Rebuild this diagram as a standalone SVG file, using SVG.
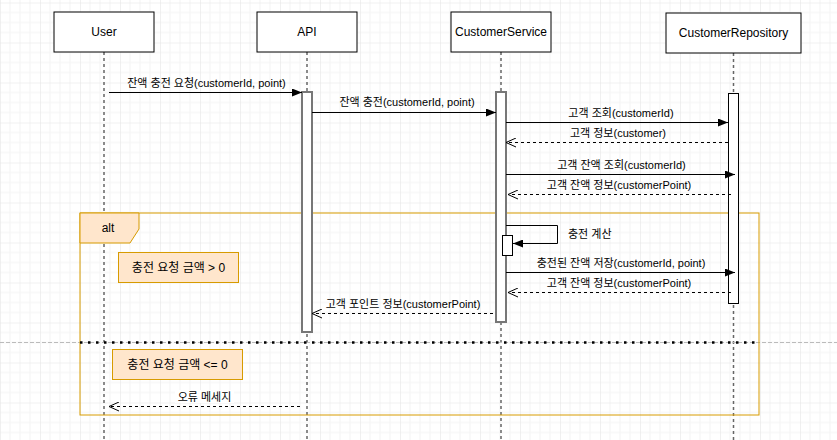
<svg xmlns="http://www.w3.org/2000/svg" width="837" height="440" viewBox="0 0 837 440">
<style>
text{font-family:"Liberation Sans",Arial,"Noto Sans CJK KR",sans-serif;fill:#000}
.hdr{font-size:12px;text-anchor:middle}
.lbl{font-size:11px;text-anchor:middle}
.box{fill:#fff;stroke:#000;stroke-width:1}
.life{stroke:#666;stroke-width:1.5;stroke-dasharray:3 3;fill:none}
.act{fill:#fff;stroke:#777;stroke-width:2}
.act2{fill:#fff;stroke:#000;stroke-width:1}
.msg{stroke:#000;stroke-width:1;fill:none}
.ret{stroke:#000;stroke-width:1;fill:none;stroke-dasharray:3 3}
.cond{fill:#ffe6cc;stroke:#d79b00;stroke-width:1}
</style>
<defs>
<pattern id="grid" width="40" height="40" patternUnits="userSpaceOnUse" x="0" y="2.5">
<path d="M10 0V40M20 0V40M30 0V40M0 10H40M0 20H40M0 30H40" stroke="#f3f3f3" stroke-width="1" fill="none"/>
<path d="M0 0V40M0 0H40" stroke="#e2e2e2" stroke-width="1" fill="none"/>
</pattern>
<marker id="block" viewBox="0 0 10 8" refX="10" refY="4" markerWidth="10" markerHeight="8" markerUnits="userSpaceOnUse" orient="auto">
<path d="M0 0L10 4L0 8z" fill="#000"/>
</marker>
<marker id="open" viewBox="0 0 11 10" refX="10.5" refY="5" markerWidth="11" markerHeight="10" markerUnits="userSpaceOnUse" orient="auto">
<path d="M0.5 0.5L10.5 5L0.5 9.5" fill="none" stroke="#000" stroke-width="1"/>
</marker>
</defs>
<rect width="837" height="440" fill="#fff"/>
<rect width="837" height="440" fill="url(#grid)"/>

<g id="lifelines">
<line class="life" x1="104" y1="52" x2="104" y2="440"/>
<line class="life" x1="307" y1="52" x2="307" y2="440"/>
<line class="life" x1="501" y1="52" x2="501" y2="440"/>
<line class="life" x1="733.5" y1="53" x2="733.5" y2="440"/>
</g>

<g id="alt-frame">
<line x1="0" y1="342.5" x2="837" y2="342.5" stroke="#bbb" stroke-width="1" stroke-dasharray="4 2"/>
<rect x="80" y="213" width="679" height="202" fill="none" stroke="#d79b00" stroke-width="1"/>
<path d="M80 213H139V229L130 243H80z" fill="#ffe6cc" stroke="#d79b00" stroke-width="1"/>
<text class="hdr" x="108" y="232">alt</text>
<line x1="80" y1="342.5" x2="759" y2="342.5" stroke="#000" stroke-width="2.5" stroke-dasharray="2.5 5.5"/>
</g>

<g id="user"><rect class="box" x="54" y="12" width="100" height="40"/><text class="hdr" x="104" y="36">User</text></g>
<g id="api"><rect class="box" x="257" y="12" width="100" height="40"/><text class="hdr" x="307" y="36">API</text></g>
<g id="customer-service"><rect class="box" x="451" y="12" width="100" height="40"/><text class="hdr" x="501" y="36">CustomerService</text></g>
<g id="customer-repository"><rect class="box" x="666" y="13" width="135" height="40"/><text class="hdr" x="733.5" y="37">CustomerRepository</text></g>

<g id="activations">
<rect class="act" x="302" y="92" width="10" height="240"/>
<rect class="act" x="496" y="92" width="10" height="230"/>
<rect class="act2" x="728.5" y="93.5" width="10" height="210"/>
<rect class="act2" x="502.5" y="235.5" width="10" height="20"/>
</g>

<g id="cond-positive"><rect class="cond" x="118.5" y="252.5" width="120" height="30"/><text class="hdr" x="178.5" y="271.5">충전 요청 금액 &gt; 0</text></g>
<g id="cond-negative"><rect class="cond" x="112.5" y="349.5" width="130" height="30"/><text class="hdr" x="177.5" y="368.5">충전 요청 금액 &lt;= 0</text></g>

<g id="connectors">
<line class="msg" x1="109" y1="92.5" x2="302" y2="92.5" marker-end="url(#block)"/>
<text class="lbl" x="206.5" y="86.5">잔액 충전 요청(customerId, point)</text>

<line class="msg" x1="312" y1="112.5" x2="496" y2="112.5" marker-end="url(#block)"/>
<text class="lbl" x="407" y="106">잔액 충전(customerId, point)</text>

<line class="msg" x1="506" y1="122.5" x2="728" y2="122.5" marker-end="url(#block)"/>
<text class="lbl" x="621" y="117">고객 조회(customerId)</text>

<line class="ret" x1="728" y1="142.5" x2="506" y2="142.5" marker-end="url(#open)"/>
<text class="lbl" x="618" y="137">고객 정보(customer)</text>

<line class="msg" x1="506" y1="174.5" x2="735" y2="174.5" marker-end="url(#block)"/>
<text class="lbl" x="621.5" y="169">고객 잔액 조회(customerId)</text>

<line class="ret" x1="731" y1="194.5" x2="508" y2="194.5" marker-end="url(#open)"/>
<text class="lbl" x="619" y="189">고객 잔액 정보(customerPoint)</text>

<path class="msg" d="M506 225.5H557.5V243.5H513" marker-end="url(#block)"/>
<text class="lbl" x="568" y="238" style="text-anchor:start">충전 계산</text>

<line class="msg" x1="506" y1="272.5" x2="735" y2="272.5" marker-end="url(#block)"/>
<text class="lbl" x="621" y="266.5">충전된 잔액 저장(customerId, point)</text>

<line class="ret" x1="731" y1="292.5" x2="508" y2="292.5" marker-end="url(#open)"/>
<text class="lbl" x="619" y="286.5">고객 잔액 정보(customerPoint)</text>

<line class="ret" x1="493" y1="313.5" x2="312" y2="313.5" marker-end="url(#open)"/>
<text class="lbl" x="403" y="308">고객 포인트 정보(customerPoint)</text>

<line class="ret" x1="300" y1="406.5" x2="109" y2="406.5" marker-end="url(#open)"/>
<rect x="175" y="390" width="59" height="13" fill="#fff"/>
<text class="lbl" x="204.5" y="401">오류 메세지</text>
</g>
</svg>
